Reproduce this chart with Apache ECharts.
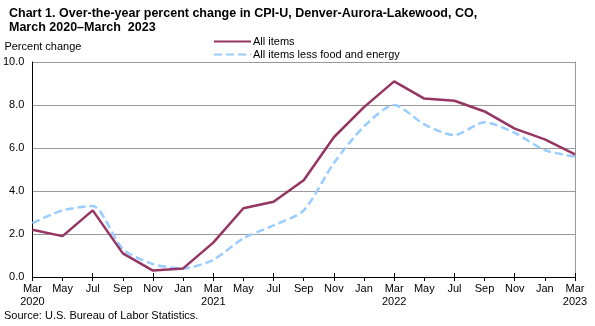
<!DOCTYPE html>
<html><head><meta charset="utf-8">
<script src="https://cdn.jsdelivr.net/npm/echarts@6/dist/echarts.min.js"></script>
<style>html,body{margin:0;padding:0;background:#fff}#c{width:595px;height:326px}</style>
</head><body><div id="c"></div>
<script>
var categories = ['Mar\n2020','May','Jul','Sep','Nov','Jan','Mar\n2021','May','Jul','Sep','Nov','Jan','Mar\n2022','May','Jul','Sep','Nov','Jan','Mar\n2023'];
var allItems = [2.2,1.9,3.1,1.1,0.3,0.4,1.6,3.2,3.5,4.5,6.5,7.9,9.1,8.3,8.2,7.7,6.9,6.4,5.7];
var coreItems = [2.5,3.1,3.3,1.3,0.6,0.4,0.8,1.8,2.4,3.1,5.3,7.0,8.0,7.1,6.6,7.2,6.7,5.9,5.6];
var yTicks = [0,2,4,6,8,10];
var FONT = 'Liberation Sans, Arial, sans-serif';
var chart = echarts.init(document.getElementById('c'), null, {renderer:'canvas'});
chart.setOption({
  animation:false,
  textStyle:{fontFamily:FONT},
  title:{
    text:'Chart 1. Over-the-year percent change in CPI-U, Denver-Aurora-Lakewood, CO,\nMarch 2020\u2013March  2023',
    left:4, top:2,
    textStyle:{fontFamily:FONT,fontSize:12.5,fontWeight:'bold',color:'#000',lineHeight:14}
  },
  legend:{
    left:213, top:36, padding:0, orient:'vertical', itemGap:2, itemWidth:37, itemHeight:13,
    itemStyle:{opacity:0},
    textStyle:{fontFamily:FONT,fontSize:11,color:'#000',padding:[0,0,0,-3]},
    data:['All items','All items less food and energy']
  },
  grid:{left:32,right:20,top:62,bottom:49},
  xAxis:[{
    type:'category', data:categories, boundaryGap:false,
    axisLine:{lineStyle:{color:'#000',width:1}},
    axisTick:{show:true,length:4,lineStyle:{color:'#000'}},
    axisLabel:{interval:0,fontFamily:FONT,fontSize:11,color:'#000',lineHeight:13,margin:5},
    splitLine:{show:false}
  },{
    type:'category', data:categories, boundaryGap:false, position:'bottom',
    axisLine:{show:false},
    axisTick:{show:true,inside:true,length:4,lineStyle:{color:'#000'}},
    axisLabel:{show:false}, splitLine:{show:false}
  }],
  yAxis:[{
    type:'value', min:0, max:10, interval:2,
    axisLine:{show:true,lineStyle:{color:'#000'}},
    axisTick:{show:false},
    axisLabel:{fontFamily:FONT,fontSize:11,color:'#000',margin:8,formatter:function(v){return yTicks.indexOf(v)>=0?v.toFixed(1):'';}},
    splitLine:{show:true,lineStyle:{color:'#999',width:1}},
    name:'Percent change', nameLocation:'end', nameGap:10,
    nameTextStyle:{fontFamily:FONT,fontSize:11,color:'#000',align:'left',padding:[0,0,0,-28]}
  },{
    type:'value', min:0, max:10, interval:2, position:'right',
    axisLine:{show:true,lineStyle:{color:'#999'}},
    axisTick:{show:false}, axisLabel:{show:false}, splitLine:{show:false}
  }],
  series:[{
    name:'All items', type:'line', data:allItems, symbol:'none',
    lineStyle:{color:'#953563',width:2.5}, itemStyle:{color:'#953563'}, z:3
  },{
    name:'All items less food and energy', type:'line', data:coreItems, symbol:'none', smooth:0.25,
    lineStyle:{color:'#99CCFF',width:2.5,type:[8,4]}, itemStyle:{color:'#99CCFF'}, z:2
  }],
  graphic:[{
    type:'text', left:4, top:310,
    style:{text:'Source: U.S. Bureau of Labor Statistics.',font:'11px '+FONT,fill:'#000'}
  }]
});
</script></body></html>
